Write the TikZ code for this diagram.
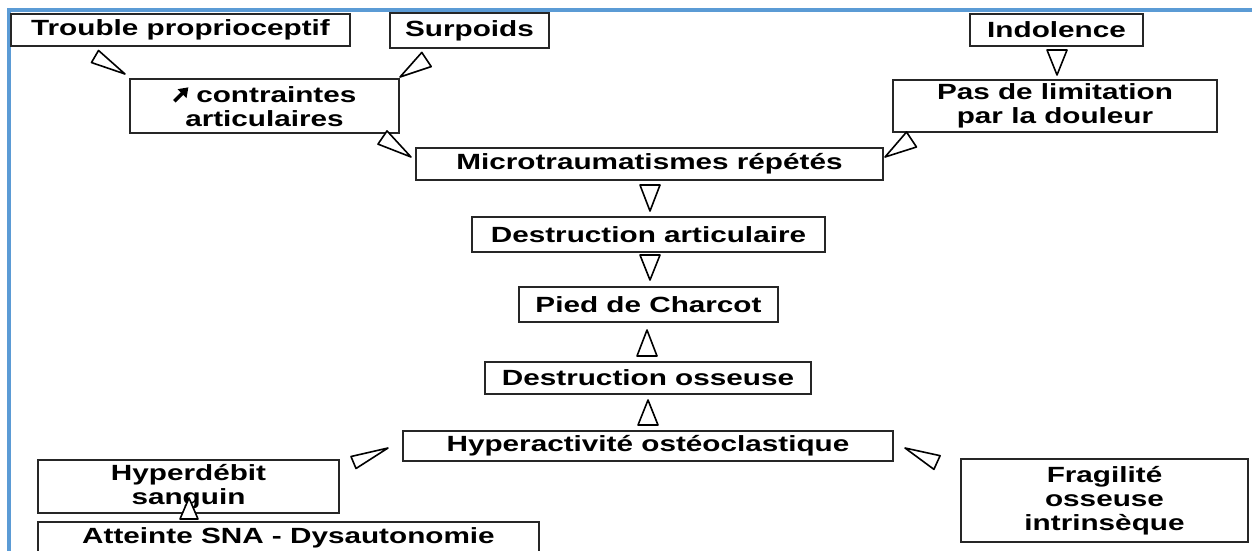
\documentclass[tikz,border=0pt]{standalone}
\usepackage{fontspec}
\usepackage{graphicx}
\setmainfont{Liberation Sans}
\usetikzlibrary{calc,arrows.meta}
\definecolor{frameblue}{HTML}{5B9BD5}
\newcommand\sx[1]{\scalebox{1.35}[1]{#1}}
\newcommand\upright{\tikz[x=1pt,y=1pt,baseline=0pt]{\draw[line width=3.6pt,-{Triangle[length=9pt,width=12pt]}] (0,1pt) -- (14pt,15pt);}}
\newcommand\tri[3]{\draw[tri] (#1) -- ($(#2)!#3!90:(#1)$) -- ($(#2)!#3!-90:(#1)$) -- cycle;}
\tikzset{
  box/.style={draw=black!85, line width=2pt, inner sep=0pt, align=center,
    font=\bfseries\fontsize{22}{24}\selectfont},
  tri/.style={draw=black, fill=white, line width=1.6pt, line join=round},
}
\begin{document}
\begin{tikzpicture}[x=1pt,y=-1pt]
\useasboundingbox (0,0) rectangle (1252,550);
\clip (0,0) rectangle (1252,550);
\fill[white] (0,0) rectangle (1252,550);
% frame
\draw[frameblue, line width=4pt] (9,552) -- (9,10) -- (1254,10);
% boxes
\node[box, minimum width=339, minimum height=32] (trouble) at (180.5,30) {\sx{Trouble proprioceptif}};
\node[box, minimum width=159, minimum height=35] (surpoids) at (469.5,30.5) {\sx{Surpoids}};
\node[box, minimum width=173, minimum height=32] (indolence) at (1056.5,30) {\sx{Indolence}};
\node[box, minimum width=269, minimum height=54] (contraintes) at (264.5,106) {\upright\ \sx{contraintes}\\\sx{articulaires}};
\node[box, minimum width=324, minimum height=52] (pas) at (1055,106) {\sx{Pas de limitation}\\\sx{par la douleur}};
\node[box, minimum width=467, minimum height=32] (micro) at (649.5,164) {\sx{Microtraumatismes répétés}};
\node[box, minimum width=353, minimum height=35] (destart) at (648.5,234.5) {\sx{Destruction articulaire}};
\node[box, minimum width=259, minimum height=35] (pied) at (648.5,304.5) {\sx{Pied de Charcot}};
\node[box, minimum width=326, minimum height=32] (destoss) at (648,378) {\sx{Destruction osseuse}};
\node[box, minimum width=490, minimum height=30] (hyper) at (648,446) {\sx{Hyperactivité ostéoclastique}};
\node[box, minimum width=301, minimum height=53] (hyperdebit) at (188.5,486.5) {\sx{Hyperdébit}\\\sx{sanguin}};
\node[box, minimum width=287, minimum height=83] (fragilite) at (1104.5,500.5) {\sx{Fragilité}\\\sx{osseuse}\\\sx{intrinsèque}};
\node[box, minimum width=501, minimum height=32] (atteinte) at (288.5,538) {\sx{Atteinte SNA - Dysautonomie}};
% arrowheads
\coordinate (t1) at (125,74);   \coordinate (b1) at (95,56.5);
\coordinate (t2) at (400,77);   \coordinate (b2) at (426.5,59.5);
\coordinate (t3) at (1057,75);  \coordinate (b3) at (1057,50);
\coordinate (t4) at (411,157);  \coordinate (b4) at (382.5,137.5);
\coordinate (t5) at (885,157);  \coordinate (b5) at (911.5,139.5);
\coordinate (t6) at (650,211);  \coordinate (b6) at (650,185);
\coordinate (t7) at (650,280);  \coordinate (b7) at (650,255);
\coordinate (t8) at (647,330);  \coordinate (b8) at (647,356);
\coordinate (t9) at (648,400);  \coordinate (b9) at (648,425);
\coordinate (t10) at (388,448); \coordinate (b10) at (353.5,462.5);
\coordinate (t11) at (905,448); \coordinate (b11) at (937,462.5);
\coordinate (t12) at (189,498); \coordinate (b12) at (189,519);
\tri{t1}{b1}{7pt}
\tri{t2}{b2}{8.5pt}
\tri{t3}{b3}{10pt}
\tri{t4}{b4}{8pt}
\tri{t5}{b5}{9pt}
\tri{t6}{b6}{10pt}
\tri{t7}{b7}{10pt}
\tri{t8}{b8}{10pt}
\tri{t9}{b9}{10pt}
\tri{t10}{b10}{6.5pt}
\tri{t11}{b11}{7.5pt}
\tri{t12}{b12}{9pt}
\end{tikzpicture}
\end{document}
